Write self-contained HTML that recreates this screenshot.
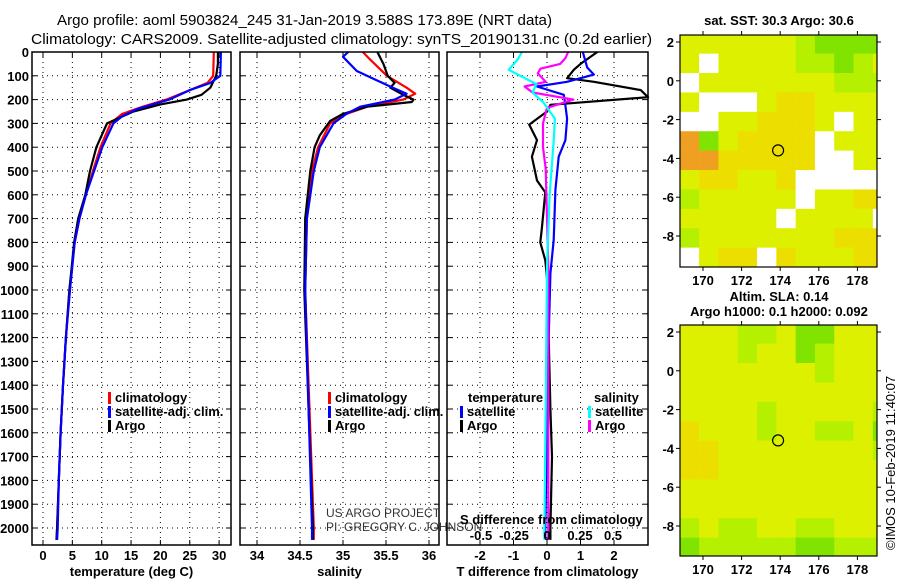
<!DOCTYPE html>
<html><head><meta charset="utf-8"><style>
html,body{margin:0;padding:0;background:#fff;}
svg{display:block;font-family:"Liberation Sans",sans-serif;}
.b{font-weight:bold;font-size:13px;}
</style></head><body>
<svg id="c" width="900" height="580" xmlns="http://www.w3.org/2000/svg">
<text x="57" y="25" font-size="15" textLength="495" lengthAdjust="spacingAndGlyphs">Argo profile: aoml 5903824_245 31-Jan-2019 3.588S 173.89E (NRT data)</text>
<text x="31" y="44" font-size="15" textLength="621" lengthAdjust="spacingAndGlyphs">Climatology: CARS2009. Satellite-adjusted climatology: synTS_20190131.nc (0.2d earlier)</text>
<g id="maps"></g>
<g id="panels"></g>
</svg>
<script>
// ---------- data ----------
const depthTicks = [0,100,200,300,400,500,600,700,800,900,1000,1100,1200,1300,1400,1500,1600,1700,1800,1900,2000];
const tTicks = [0,5,10,15,20,25,30];
const sTicks = [34,34.5,35,35.5,36];
const dtTicks = [-2,-1,0,1,2];
const dsTicks = [-0.5,-0.25,0,0.25,0.5];
const dsTickLabels = ['-0.5','-0.25','0','0.25','0.5'];

const tArgoDepth = [0,50,100,150,180,200,220,250,300,400,500,600,700,800,900,1000,1200,1400,1600,1800,2000,2050];
const tArgo      = [29.8,29.8,29.5,28.5,27,24.5,20,15.4,10.9,9.1,8.0,7.2,6.0,5.3,4.9,4.5,3.9,3.4,3.0,2.7,2.4,2.3];
const tClimDepth = [0,100,130,160,200,230,260,300,400,500,600,700,800,1000,1200,1400,1600,1800,2000,2050];
const tClim      = [29.1,29.0,28,25,21,17,13.5,11.5,9.8,8.5,7.3,6.2,5.4,4.5,3.9,3.4,3.0,2.7,2.4,2.3];
const tSatDepth  = [0,100,130,160,200,240,270,300,400,500,600,700,800,1000,1200,1400,1600,1800,2000,2050];
const tSat       = [30.3,30.2,28.5,25,21.5,16,13.5,12,10.1,8.7,7.3,6.2,5.4,4.6,3.9,3.4,3.0,2.7,2.5,2.4];

const sArgoDepth = [0,50,100,130,150,180,200,210,230,260,290,350,400,500,700,1000,1500,2000,2050];
const sArgo      = [35.40,35.47,35.52,35.60,35.55,35.70,35.82,35.80,35.28,35.0,34.85,34.73,34.67,34.62,34.56,34.55,34.60,34.65,34.65];
const sClimDepth = [0,30,100,150,175,200,230,260,300,400,500,700,1000,1500,2000,2050];
const sClim      = [35.23,35.31,35.51,35.74,35.84,35.70,35.28,35.04,34.85,34.71,34.64,34.58,34.56,34.61,34.66,34.66];
const sSatDepth  = [0,20,80,120,150,175,200,230,260,300,400,500,700,1000,1500,2000,2050];
const sSat       = [35.06,35.0,35.16,35.40,35.58,35.74,35.60,35.2,35.04,34.89,34.73,34.66,34.58,34.56,34.60,34.64,34.64];

const dtArgoDepth = [0,50,75,110,125,160,190,222,250,305,370,440,540,590,735,800,875,950,1200,1500,1700,2000,2050];
const dtArgo      = [1.5,1.0,0.8,0.6,1.4,2.8,3.2,0.1,0.0,-0.53,-0.3,-0.45,-0.3,-0.05,-0.15,-0.2,-0.05,0.0,0.05,0.1,0.15,0.1,0.1];
const dtSatDepth  = [0,65,95,125,145,180,225,280,370,440,580,790,930,1200,1600,2000,2050];
const dtSat       = [1.07,1.2,1.4,0.6,-0.3,0.5,0.55,0.6,0.55,0.35,0.25,0.2,0.1,0.05,0.0,-0.05,-0.05];
const dsArgoDepth = [0,25,50,70,90,125,145,170,200,235,300,400,490,900,1500,2000,2050];
const dsArgo      = [0.16,0.14,0.1,-0.05,-0.07,-0.01,-0.17,-0.11,0.2,0.0,-0.03,-0.03,-0.01,0.01,0.01,0.01,0.01];
const dsSatDepth  = [0,30,75,135,170,210,280,380,600,900,1500,2000,2050];
const dsSat       = [-0.19,-0.22,-0.29,-0.08,-0.11,-0.03,0.06,0.05,0.02,0.0,-0.01,-0.02,-0.02];

// map cells: 1 deg lon from 168.8, 1 deg lat from 2.4 downward
const sstRows = [
 "yyyyyygGGGG","ywyyyyggGgy","wyyyyyyyggg","ywwwyYYyyyy","wwyyYYYywyy","oGyYYYYwyyy",
 "ooYYYYYwwyy","yYYyyYwwwww","gyyyyywyyYY","yyyyywyyyyw","gyyyyyyyYYY","wyYYwYyyyYY"];
const slaRows = [
 "yyyggyGGyyy","yyygyyGgyyy","yyyyyyygyyy","yyyyyyyyyyy","yyyygyyyyyg","YyyygyyggyG",
 "YYyyyyyyyyg","YYyyyyyyyyy","yyyyyyyyyyy","yyyyyyyyyyy","gyggyyggyyy","GgggggGGggg"];
const cellColors = {w:'#ffffff',y:'#dcf000',Y:'#ecdf00',o:'#f0a020',g:'#b4f000',G:'#80e400'};
const lonTicks = [170,172,174,176,178];
const latTicks = [2,0,-2,-4,-6,-8];
const floatLon = 173.89, floatLat = -3.588;

// ---------- helpers ----------
const NS='http://www.w3.org/2000/svg';
function mk(parent,tag,attrs,txt){const e=document.createElementNS(NS,tag);for(const k in attrs)e.setAttribute(k,attrs[k]);if(txt!==undefined)e.textContent=txt;parent.appendChild(e);return e;}
const root=document.getElementById('panels');
const Y0=52, PXD=0.238, YB=545;
const yD=d=>Y0+d*PXD;

function panel(name,x0,x1,xf,ticks,labels,title){
  const g=mk(root,'g',{});
  
  
  // grid
  depthTicks.forEach(d=>{
    const l=mk(g,'line',{x1:x0,x2:x1,y1:yD(d),y2:yD(d),stroke:'#000','stroke-width':1,'stroke-dasharray':'1,4'});
    
    
    mk(g,'line',{x1:x0,x2:x0+5,y1:yD(d),y2:yD(d),stroke:'#000'});
    mk(g,'line',{x1:x1-5,x2:x1,y1:yD(d),y2:yD(d),stroke:'#000'});
  });
  ticks.forEach((t,i)=>{
    const x=xf(t);
    const l=mk(g,'line',{x1:x,x2:x,y1:Y0,y2:YB,stroke:'#000','stroke-width':1,'stroke-dasharray':'1,4'});
    
    
    mk(g,'line',{x1:x,x2:x,y1:YB-5,y2:YB,stroke:'#000'});
    mk(g,'line',{x1:x,x2:x,y1:Y0,y2:Y0+5,stroke:'#000'});
    const tx=mk(g,'text',{x:x,y:560,'text-anchor':'middle',class:'b'},labels[i]);
    
    
  });
  const tt=mk(g,'text',{x:(x0+x1)/2,y:576,'text-anchor':'middle',class:'b'},title);
  
  
  return g;
}
function line(g,name,xf,depths,vals,color,x0,x1){
  const pts=depths.map((d,i)=>{let x=xf(vals[i]);x=Math.max(x0,Math.min(x1,x));return x.toFixed(1)+','+yD(d).toFixed(1);}).join(' ');
  const p=mk(g,'polyline',{points:pts,fill:'none',stroke:color,'stroke-width':2.2,'stroke-linejoin':'round'});
  
  
}
function frame(g,x0,x1){mk(g,'rect',{x:x0,y:Y0,width:x1-x0,height:YB-Y0,fill:'none',stroke:'#000','stroke-width':1.5});}
function leg(g,name,x,y,color,label){
  mk(g,'rect',{x:x,y:y-10,width:3,height:12,fill:color});
  const t=mk(g,'text',{x:x+7,y:y,class:'b'},label);
  
  
}

// depth axis labels
depthTicks.forEach(d=>{
  const t=mk(root,'text',{x:29,y:yD(d)+5,'text-anchor':'end',class:'b'},String(d));
  
  
});

// panel 1 temperature
const xT=t=>43+t*5.87;
const p1=panel('temperature',32,231,xT,tTicks,tTicks.map(String),'temperature (deg C)');
line(p1,'temperature-climatology-line',xT,tClimDepth,tClim,'#ff0000',32,231);
line(p1,'temperature-argo-line',xT,tArgoDepth,tArgo,'#000000',32,231);
line(p1,'temperature-satellite-line',xT,tSatDepth,tSat,'#0000ff',32,231);
frame(p1,32,231);
leg(p1,'legend-climatology',108,402,'#ff0000','climatology');
leg(p1,'legend-satellite-adj',108,416,'#0000ff','satellite-adj. clim.');
leg(p1,'legend-argo',108,430,'#000000','Argo');

// panel 2 salinity
const xS=s=>343+(s-35)*86;
const p2=panel('salinity',240,439,xS,sTicks,['34','34.5','35','35.5','36'],'salinity');
line(p2,'salinity-climatology-line',xS,sClimDepth,sClim,'#ff0000',240,439);
line(p2,'salinity-argo-line',xS,sArgoDepth,sArgo,'#000000',240,439);
line(p2,'salinity-satellite-line',xS,sSatDepth,sSat,'#0000ff',240,439);
frame(p2,240,439);
leg(p2,'legend-climatology-2',328,402,'#ff0000','climatology');
leg(p2,'legend-satellite-adj-2',328,416,'#0000ff','satellite-adj. clim.');
leg(p2,'legend-argo-2',328,430,'#000000','Argo');
const c1=mk(p2,'text',{x:326,y:517,'font-size':12,fill:'#333'},'US ARGO PROJECT');


const c2=mk(p2,'text',{x:326,y:531,'font-size':12,fill:'#333'},'PI: GREGORY C. JOHNSON');



// panel 3 differences
const xDT=v=>547+33.5*v, xDS=v=>547+132*v;
const p3=panel('difference',447,648,xDT,dtTicks,dtTicks.map(String),'T difference from climatology');
line(p3,'t-diff-argo-line',xDT,dtArgoDepth,dtArgo,'#000000',447,648);
line(p3,'t-diff-satellite-line',xDT,dtSatDepth,dtSat,'#0000ff',447,648);
line(p3,'s-diff-argo-line',xDS,dsArgoDepth,dsArgo,'#ff00ff',447,648);
line(p3,'s-diff-satellite-line',xDS,dsSatDepth,dsSat,'#00ffff',447,648);
frame(p3,447,648);
const lt=mk(p3,'text',{x:468,y:402,class:'b'},'temperature');


leg(p3,'legend-t-satellite',460,416,'#0000ff','satellite');
leg(p3,'legend-t-argo',460,430,'#000000','Argo');
const ls=mk(p3,'text',{x:594,y:402,class:'b'},'salinity');


leg(p3,'legend-s-satellite',588,416,'#00ffff','satellite');
leg(p3,'legend-s-argo',588,430,'#ff00ff','Argo');
const st=mk(p3,'text',{x:460,y:524,class:'b'},'S difference from climatology');


dsTicks.forEach((v,i)=>{
  const t=mk(p3,'text',{x:xDS(v),y:540,'text-anchor':'middle',class:'b'},dsTickLabels[i]);
  
  
});

// ---------- maps ----------
const mroot=document.getElementById('maps');
function map(name,top,bot,rows,titles,lat2y){
  const g=mk(mroot,'g',{});
  
  
  const x0=680,x1=877;
  const xL=l=>703+(l-170)*19.3;
  const yL=l=>lat2y+(2-l)*19.4;
  const cid='clip'+name;
  const cp=mk(g,'clipPath',{id:cid});mk(cp,'rect',{x:x0,y:top,width:x1-x0,height:bot-top});
  const cg=mk(g,'g',{'clip-path':'url(#'+cid+')'});
  rows.forEach((r,ri)=>{
    for(let ci=0;ci<r.length;ci++){
      const lon=168.8+ci, lat=2.4-ri;
      const c=mk(cg,'rect',{x:xL(lon),y:yL(lat),width:19.6,height:19.7,fill:cellColors[r[ci]]});
      
      
    }
  });
  const fl=mk(g,'circle',{cx:xL(floatLon),cy:yL(floatLat),r:5.5,fill:'none',stroke:'#000','stroke-width':1.2});
  
  
  mk(g,'rect',{x:x0,y:top,width:x1-x0,height:bot-top,fill:'none',stroke:'#000','stroke-width':1.2});
  lonTicks.forEach(l=>{
    mk(g,'line',{x1:xL(l),x2:xL(l),y1:bot,y2:bot+4,stroke:'#000'});
    mk(g,'line',{x1:xL(l),x2:xL(l),y1:top,y2:top-4,stroke:'#000'});
    const t=mk(g,'text',{x:xL(l),y:bot+18,'text-anchor':'middle',class:'b'},String(l));
    
    
  });
  latTicks.forEach(l=>{
    mk(g,'line',{x1:x0-4,x2:x0,y1:yL(l),y2:yL(l),stroke:'#000'});
    mk(g,'line',{x1:x1,x2:x1+4,y1:yL(l),y2:yL(l),stroke:'#000'});
    const t=mk(g,'text',{x:x0-6,y:yL(l)+5,'text-anchor':'end',class:'b'},String(l));
    
    
  });
  titles.forEach((tt,i)=>{
    const t=mk(g,'text',{x:779,y:tt[1],'text-anchor':'middle',class:'b'},tt[0]);
    
    
  });
}
map('sst-map',35,267,sstRows,[['sat. SST: 30.3 Argo: 30.6',25]],42);
map('sla-map',325,556,slaRows,[['Altim. SLA: 0.14',301],['Argo h1000: 0.1 h2000: 0.092',316]],332);
const stamp=mk(mroot,'text',{x:0,y:0,'font-size':13,transform:'translate(895,550) rotate(-90)'},'©IMOS 10-Feb-2019 11:40:07');


</script>
</body></html>
